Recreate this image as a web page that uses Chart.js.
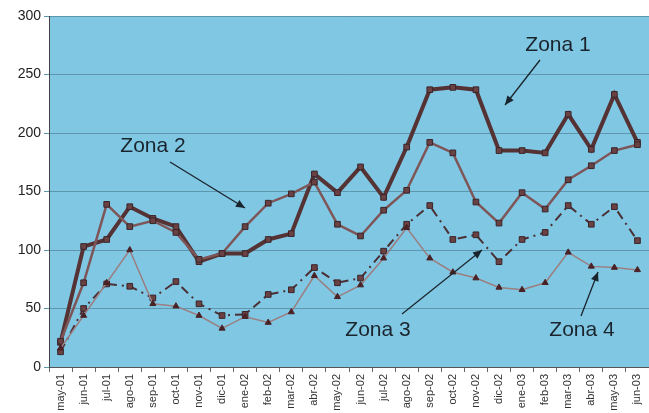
<!DOCTYPE html>
<html>
<head>
<meta charset="utf-8">
<script src="https://cdn.jsdelivr.net/npm/chart.js@4.4.0/dist/chart.umd.min.js"></script>
<style>
html,body{margin:0;padding:0;background:#fff;}
#wrap{width:649px;height:413px;position:relative;}
</style>
</head>
<body>
<div id="wrap"><canvas id="c" width="649" height="413"></canvas></div>
<script>
const categories = ["may-01","jun-01","jul-01","ago-01","sep-01","oct-01","nov-01","dic-01","ene-02","feb-02","mar-02","abr-02","may-02","jun-02","jul-02","ago-02","sep-02","oct-02","nov-02","dic-02","ene-03","feb-03","mar-03","abr-03","may-03","jun-03"];
const zona1 = [21,103,109,137,127,120,90,97,97,109,114,165,149,171,145,188,237,239,237,185,185,183,216,186,233,192];
const zona2 = [22,72,139,120,125,115,92,97,120,140,148,158,122,112,134,151,192,183,141,123,149,135,160,172,185,190];
const zona3 = [13,50,71,69,59,73,54,44,45,62,66,85,72,76,99,122,138,109,113,90,109,115,138,122,137,108];
const zona4 = [16,44,72,100,54,52,44,33,43,38,47,78,60,70,93,119,93,81,76,68,66,72,98,86,85,83];
const yTicks = [0,50,100,150,200,250,300];

const labelsAnn = [
  {text:"Zona 1", x:558, y:45, from:[540,60], to:[505,105]},
  {text:"Zona 2", x:153, y:146, from:[170,162], to:[245,208]},
  {text:"Zona 3", x:378, y:330, from:[402,314], to:[482,250]},
  {text:"Zona 4", x:582, y:330, from:[581,316], to:[598,272]}
];

const bgPlugin = {
  id:'bg',
  beforeDraw(chart){
    const {ctx, chartArea:a} = chart;
    ctx.save();
    ctx.fillStyle = '#80c7e4';
    ctx.fillRect(a.left, a.top, a.right-a.left, a.bottom-a.top);
    ctx.strokeStyle = '#c06070';
    ctx.lineWidth = 1;
    ctx.beginPath(); ctx.moveTo(a.left, a.top+0.5); ctx.lineTo(a.right, a.top+0.5); ctx.stroke();
    ctx.restore();
  },
  afterDatasetsDraw(chart){
    const {ctx} = chart;
    ctx.save();
    ctx.fillStyle = '#1a242c';
    ctx.strokeStyle = '#1a242c';
    ctx.font = '21px "Liberation Sans", Arial, sans-serif';
    ctx.textAlign = 'center';
    ctx.textBaseline = 'middle';
    labelsAnn.forEach(l => {
      ctx.fillText(l.text, l.x, l.y);
      const [x1,y1] = l.from, [x2,y2] = l.to;
      ctx.lineWidth = 1.3;
      ctx.beginPath(); ctx.moveTo(x1,y1); ctx.lineTo(x2,y2); ctx.stroke();
      const ang = Math.atan2(y2-y1, x2-x1);
      const hl = 9, hw = 4;
      ctx.beginPath();
      ctx.moveTo(x2,y2);
      ctx.lineTo(x2 - hl*Math.cos(ang) + hw*Math.sin(ang), y2 - hl*Math.sin(ang) - hw*Math.cos(ang));
      ctx.lineTo(x2 - hl*Math.cos(ang) - hw*Math.sin(ang), y2 - hl*Math.sin(ang) + hw*Math.cos(ang));
      ctx.closePath(); ctx.fill();
    });
    ctx.restore();
  }
};

new Chart(document.getElementById('c'), {
  type:'line',
  data:{
    labels: categories,
    datasets:[
      {label:'Zona 4', data:zona4, borderColor:'#9a7f80', borderWidth:1.5, pointStyle:'triangle', pointRadius:3.5, pointBackgroundColor:'#4a2226', pointBorderColor:'#4a2226', pointBorderWidth:1, tension:0},
      {label:'Zona 3', data:zona3, borderColor:'#4a3034', borderWidth:2, borderDash:[9,5,2,5], pointStyle:'rect', pointRadius:4, pointBackgroundColor:'#6a4244', pointBorderColor:'#3a2428', pointBorderWidth:1, tension:0},
      {label:'Zona 2', data:zona2, borderColor:'#7e5658', borderWidth:2.5, pointStyle:'rect', pointRadius:4, pointBackgroundColor:'#6a4244', pointBorderColor:'#3a2428', pointBorderWidth:1, tension:0},
      {label:'Zona 1', data:zona1, borderColor:'#553234', borderWidth:4, pointStyle:'rect', pointRadius:4, pointBackgroundColor:'#6a4244', pointBorderColor:'#3a2428', pointBorderWidth:1, tension:0}
    ]
  },
  options:{
    responsive:false,
    animation:false,
    layout:{autoPadding:false, padding:{top:16,left:0,right:0,bottom:0}},
    plugins:{legend:{display:false}, tooltip:{enabled:false}},
    scales:{
      x:{
        offset:true,
        grid:{display:true, drawOnChartArea:false, drawTicks:true, tickLength:5, offset:true, color:'#666'},
        border:{display:true, color:'#555', width:1},
        ticks:{autoSkip:false, maxRotation:90, minRotation:90, padding:2, color:'#333', font:{family:'"Liberation Sans", Arial, sans-serif', size:11}},
        afterFit(s){ s.height = 46; s.paddingLeft = 0; s.paddingRight = 0; }
      },
      y:{
        min:0, max:300,
        afterBuildTicks(s){ s.ticks = yTicks.map(v=>({value:v})); },
        grid:{color:'#5e97ad', lineWidth:1, drawTicks:true, tickLength:5},
        border:{display:true, color:'#444', width:1},
        ticks:{padding:3, color:'#222', font:{family:'"Liberation Sans", Arial, sans-serif', size:14}},
        afterFit(s){ s.width = 49; s.paddingTop = 0; s.paddingBottom = 0; }
      }
    }
  },
  plugins:[bgPlugin]
});
</script>
</body>
</html>
